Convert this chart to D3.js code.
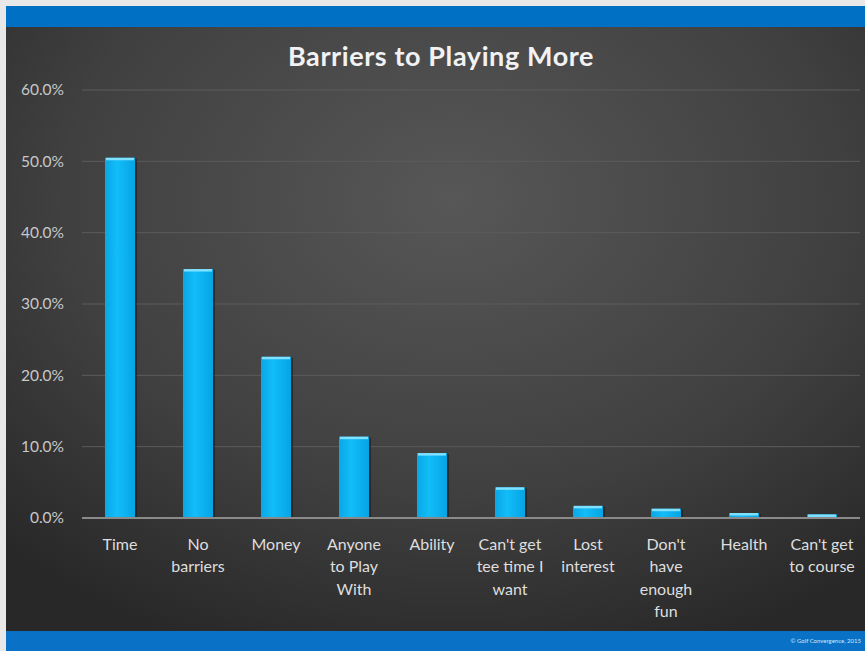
<!doctype html>
<html lang='en'>
  <head>
    <meta charset='utf-8'>
    <title>Barriers to Playing More</title>
    <script src='https://d3js.org/d3.v7.min.js'></script>
    <style>
      body { margin: 0; background: #e8e8e8; }
      svg { display: block; font-family: Lato, 'Open Sans', sans-serif; }
    </style>
  </head>
  <body>
    <svg width='865' height='651'></svg>
    <script>
      // data
      var categories = ['Time', 'No barriers', 'Money', 'Anyone to Play With', 'Ability',
                        "Can't get tee time I want", 'Lost interest', "Don't have enough fun",
                        'Health', "Can't get to course"];
      var labelLines = [['Time'], ['No', 'barriers'], ['Money'], ['Anyone', 'to Play', 'With'], ['Ability'],
                        ["Can't get", 'tee time I', 'want'], ['Lost', 'interest'], ["Don't", 'have', 'enough', 'fun'],
                        ['Health'], ["Can't get", 'to course']];
      var values = [50.5, 34.9, 22.6, 11.4, 9.1, 4.3, 1.7, 1.3, 0.7, 0.5];
      var yTicks = [0, 10, 20, 30, 40, 50, 60];

      var svg = d3.select('svg');
      var defs = svg.append('defs');

      var bg = defs.append('radialGradient')
        .attr('id', 'bg')
        .attr('cx', '52%').attr('cy', '30%').attr('r', '75%');
      bg.append('stop').attr('offset', '0%').attr('stop-color', '#575757');
      bg.append('stop').attr('offset', '60%').attr('stop-color', '#404040');
      bg.append('stop').attr('offset', '100%').attr('stop-color', '#282828');

      var barGrad = defs.append('linearGradient')
        .attr('id', 'bar').attr('x1', 0).attr('x2', 1).attr('y1', 0).attr('y2', 0);
      barGrad.append('stop').attr('offset', '0%').attr('stop-color', '#0aa6e6');
      barGrad.append('stop').attr('offset', '40%').attr('stop-color', '#12bdf8');
      barGrad.append('stop').attr('offset', '100%').attr('stop-color', '#06a4e4');

      // slide frame
      svg.append('rect').attr('x', 6).attr('y', 6).attr('width', 859).attr('height', 645).attr('fill', 'url(#bg)');
      svg.append('rect').attr('x', 6).attr('y', 6).attr('width', 859).attr('height', 21).attr('fill', '#0070c4');
      svg.append('rect').attr('x', 6).attr('y', 631).attr('width', 859).attr('height', 20).attr('fill', '#0a72c6');

      svg.append('text')
        .attr('x', 441).attr('y', 66)
        .attr('text-anchor', 'middle')
        .attr('fill', '#f2f2f2')
        .attr('font-size', 27)
        .attr('font-weight', 'bold')
        .attr('letter-spacing', 0.6)
        .text('Barriers to Playing More');

      svg.append('text')
        .attr('x', 861).attr('y', 643)
        .attr('text-anchor', 'end')
        .attr('fill', '#cfe6f8')
        .attr('font-size', 6)
        .text('\u00a9 Golf Convergence, 2015');

      var x = d3.scaleBand()
        .domain(categories)
        .range([81, 861])
        .padding(0);

      var y = d3.scaleLinear()
        .domain([0, 60])
        .range([518, 90]);

      // gridlines
      svg.append('g')
        .selectAll('line')
        .data(yTicks.slice(1))
        .enter().append('line')
        .attr('x1', 82).attr('x2', 860)
        .attr('y1', function(d) { return y(d); })
        .attr('y2', function(d) { return y(d); })
        .attr('stroke', '#5c5c5c')
        .attr('stroke-width', 1);

      // y axis labels
      var yAxis = svg.append('g')
        .attr('transform', 'translate(64,0)')
        .call(d3.axisLeft(y).tickValues(yTicks).tickSize(0).tickPadding(0)
          .tickFormat(function(d) { return d.toFixed(1) + '%'; }));
      yAxis.select('.domain').remove();
      yAxis.selectAll('text')
        .attr('fill', '#c8c8c8')
        .attr('font-size', 15.5)
        .attr('font-family', 'Lato, sans-serif');

      var bw = x.bandwidth() * 0.385;

      var bars = svg.append('g')
        .selectAll('g')
        .data(values)
        .enter().append('g');

      // shadow
      bars.append('rect')
        .attr('x', function(d, i) { return x(categories[i]) + (x.bandwidth() - bw) / 2 + 2; })
        .attr('y', function(d) { return y(d) + 1; })
        .attr('width', bw)
        .attr('height', function(d) { return 518 - y(d); })
        .attr('fill', '#1c1c1c')
        .attr('opacity', 0.6);

      bars.append('rect')
        .attr('x', function(d, i) { return x(categories[i]) + (x.bandwidth() - bw) / 2; })
        .attr('y', function(d) { return y(d); })
        .attr('width', bw)
        .attr('height', function(d) { return 518 - y(d); })
        .attr('fill', 'url(#bar)');

      // highlight on top of each bar
      bars.append('rect')
        .attr('x', function(d, i) { return x(categories[i]) + (x.bandwidth() - bw) / 2 + 1; })
        .attr('y', function(d) { return y(d); })
        .attr('width', bw - 2)
        .attr('height', 2.5)
        .attr('fill', '#7fe0ff');

      // baseline
      svg.append('line')
        .attr('x1', 82).attr('x2', 860)
        .attr('y1', y(0)).attr('y2', y(0))
        .attr('stroke', '#8a8a8a')
        .attr('stroke-width', 2);

      // category labels
      var labels = svg.append('g')
        .selectAll('text')
        .data(labelLines)
        .enter().append('text')
        .attr('text-anchor', 'middle')
        .attr('fill', '#dedede')
        .attr('font-size', 16)
        .attr('transform', function(d, i) {
          return 'translate(' + (x(categories[i]) + x.bandwidth() / 2) + ',550)';
        });

      labels.selectAll('tspan')
        .data(function(d) { return d; })
        .enter().append('tspan')
        .attr('x', 0)
        .attr('y', function(d, j) { return j * 22.3; })
        .text(function(d) { return d; });
    </script>
  </body>
</html>
